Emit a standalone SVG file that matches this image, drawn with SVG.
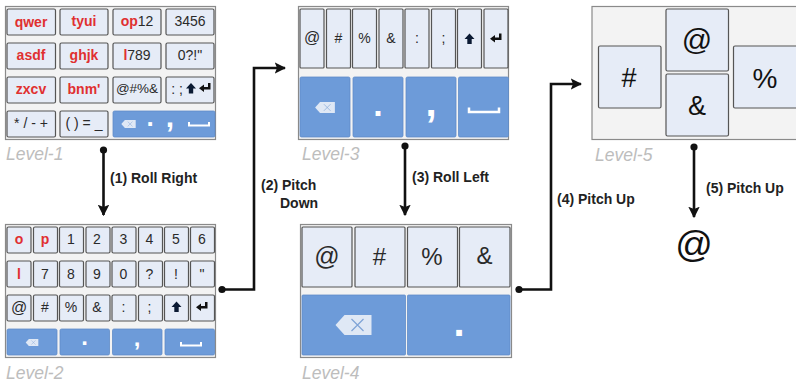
<svg xmlns="http://www.w3.org/2000/svg" width="796" height="384" viewBox="0 0 796 384">
<style>
text{font-family:"Liberation Sans",Arial,sans-serif;text-anchor:middle;fill:#2a2a2a}
.panel{fill:#f3f3f3;stroke:#8a8a8a;stroke-width:1.2}
.k{fill:#e6ecf7;stroke:#555;stroke-width:1.2}
.b{fill:#6d9bd9;stroke:#5f8cc8;stroke-width:.8}
.r{fill:#e03030;font-weight:bold}
.w{fill:#fff;font-weight:bold}
.lv{font-style:italic;fill:#bdbdbd;font-size:17.5px;text-anchor:start}
.lb{font-weight:bold;fill:#222;font-size:14px;text-anchor:start}
.s14{font-size:14px}.s15{font-size:15px}.s16{font-size:16px}
.c{fill:none;stroke:#111;stroke-width:2.6}
.d{fill:#111}
.sp{fill:none;stroke:#fff;stroke-width:2}
</style>
<defs>
<marker id="ah" viewBox="0 0 10 10" refX="9" refY="5" markerWidth="4.4" markerHeight="4.4" orient="auto" markerUnits="strokeWidth"><path d="M0 0L10 5L0 10L2 5Z" fill="#111"/></marker>
<symbol id="bs" viewBox="0 0 36 20" overflow="visible"><path d="M9 0H36V20H9L0 10Z" fill="#dfe8f5"/><path d="M16 4L28 16M28 4L16 16" stroke="#7fa3d6" stroke-width="1.2"/></symbol>
<path id="up" d="M0 -5.500L5 0H2.200V5H-2.200V0H-5Z" fill="#0b1a33"/>
<path id="en" d="M5.500 -5V1.500H-1V4L-6 .2L-1 -3.500V-1H3V-5Z" fill="#111"/>
</defs>
<g id="level-1">
<rect class="panel" x="5.500" y="6.500" width="210" height="133"/>
<rect class="k" x="7" y="9" width="48.500" height="26" rx="1.500"/><rect class="k" x="60" y="9" width="48" height="26" rx="1.500"/><rect class="k" x="113" y="9" width="48" height="26" rx="1.500"/><rect class="k" x="166" y="9" width="48" height="26" rx="1.500"/>
<rect class="k" x="7" y="43" width="48.500" height="26" rx="1.500"/><rect class="k" x="60" y="43" width="48" height="26" rx="1.500"/><rect class="k" x="113" y="43" width="48" height="26" rx="1.500"/><rect class="k" x="166" y="43" width="48" height="26" rx="1.500"/>
<rect class="k" x="7" y="77" width="48.500" height="26" rx="1.500"/><rect class="k" x="60" y="77" width="48" height="26" rx="1.500"/><rect class="k" x="113" y="77" width="48" height="26" rx="1.500"/><rect class="k" x="166" y="77" width="48" height="26" rx="1.500"/>
<rect class="k" x="7" y="111" width="48.500" height="26" rx="1.500"/><rect class="k" x="60" y="111" width="48" height="26" rx="1.500"/>
<rect class="b" x="113" y="111" width="102" height="26" rx="1.500"/>
<text class="r s14" x="31" y="27">qwer</text><text class="r s14" x="84" y="26">tyui</text>
<text class="s14" x="137" y="26"><tspan class="r">op</tspan>12</text><text class="s14" x="190" y="26">3456</text>
<text class="r s14" x="31" y="60">asdf</text><text class="r s14" x="84" y="60">ghjk</text>
<text class="s14" x="137" y="60"><tspan class="r">l</tspan>789</text><text class="s14" x="190" y="60">0?!"</text>
<text class="r s14" x="31" y="94">zxcv</text><text class="r s14" x="84" y="94">bnm'</text>
<text x="137" y="93" font-size="13.500">@#%&amp;</text><text class="s14" x="177" y="94">: ;</text>
<use href="#up" x="191" y="88.500"/><use href="#en" x="205" y="88"/>
<text class="s14" x="31" y="128">* / - +</text><text class="s14" x="84" y="128">( ) = _</text>
<use href="#bs" x="121" y="120" width="15" height="8"/>
<text class="w" x="150" y="126" font-size="26">.</text><text class="w" x="170" y="127" font-size="30">,</text>
<path class="sp" d="M189 122V125.500H209V122"/>
<text class="lv" x="6" y="160">Level-1</text>
</g>
<g id="level-2">
<rect class="panel" x="5.500" y="224.500" width="210" height="133"/>
<rect class="k" x="7" y="227" width="24" height="26" rx="1.500"/><rect class="k" x="33.500" y="227" width="24" height="26" rx="1.500"/><rect class="k" x="59.500" y="227" width="24" height="26" rx="1.500"/><rect class="k" x="86" y="227" width="24" height="26" rx="1.500"/><rect class="k" x="112" y="227" width="24" height="26" rx="1.500"/><rect class="k" x="138.500" y="227" width="24" height="26" rx="1.500"/><rect class="k" x="164.500" y="227" width="24" height="26" rx="1.500"/><rect class="k" x="190.500" y="227" width="24" height="26" rx="1.500"/>
<rect class="k" x="7" y="261" width="24" height="26" rx="1.500"/><rect class="k" x="33.500" y="261" width="24" height="26" rx="1.500"/><rect class="k" x="59.500" y="261" width="24" height="26" rx="1.500"/><rect class="k" x="86" y="261" width="24" height="26" rx="1.500"/><rect class="k" x="112" y="261" width="24" height="26" rx="1.500"/><rect class="k" x="138.500" y="261" width="24" height="26" rx="1.500"/><rect class="k" x="164.500" y="261" width="24" height="26" rx="1.500"/><rect class="k" x="190.500" y="261" width="24" height="26" rx="1.500"/>
<rect class="k" x="7" y="295" width="24" height="26" rx="1.500"/><rect class="k" x="33.500" y="295" width="24" height="26" rx="1.500"/><rect class="k" x="59.500" y="295" width="24" height="26" rx="1.500"/><rect class="k" x="86" y="295" width="24" height="26" rx="1.500"/><rect class="k" x="112" y="295" width="24" height="26" rx="1.500"/><rect class="k" x="138.500" y="295" width="24" height="26" rx="1.500"/><rect class="k" x="164.500" y="295" width="24" height="26" rx="1.500"/><rect class="k" x="190.500" y="295" width="24" height="26" rx="1.500"/>
<rect class="b" x="7" y="329" width="50" height="26" rx="1.500"/><rect class="b" x="60" y="329" width="49.500" height="26" rx="1.500"/><rect class="b" x="112.500" y="329" width="49.500" height="26" rx="1.500"/><rect class="b" x="165" y="329" width="49.500" height="26" rx="1.500"/>
<text class="r s14" x="19" y="244">o</text><text class="r s14" x="45" y="244">p</text><text class="s14" x="71" y="244">1</text><text class="s14" x="97" y="244">2</text><text class="s14" x="123.500" y="244">3</text><text class="s14" x="149.500" y="244">4</text><text class="s14" x="176" y="244">5</text><text class="s14" x="202" y="244">6</text>
<text class="r s14" x="19" y="279">l</text><text class="s14" x="45" y="279">7</text><text class="s14" x="71" y="279">8</text><text class="s14" x="97" y="279">9</text><text class="s14" x="123.500" y="279">0</text><text class="s14" x="149.500" y="279">?</text><text class="s14" x="176" y="279">!</text><text class="s14" x="202" y="279">"</text>
<text class="s16" x="19" y="313">@</text><text class="s14" x="45" y="312">#</text><text class="s14" x="71" y="312">%</text><text class="s14" x="97" y="312">&amp;</text><text class="s14" x="123.500" y="312">:</text><text class="s14" x="149.500" y="312">;</text>
<use href="#up" x="176.500" y="307"/><use href="#en" x="202" y="307"/>
<use href="#bs" x="25" y="339" width="14" height="7"/>
<text class="w" x="84.500" y="345" font-size="24">.</text><text class="w" x="137" y="346" font-size="24">,</text>
<path class="sp" d="M181 342V345.500H201V342"/>
<text class="lv" x="6" y="379">Level-2</text>
</g>
<g id="level-3">
<rect class="panel" x="298.500" y="6.500" width="210" height="133"/>
<rect class="k" x="300" y="9" width="24" height="59" rx="1"/><rect class="k" x="326.500" y="9" width="24" height="59" rx="1"/><rect class="k" x="352.500" y="9" width="24" height="59" rx="1"/><rect class="k" x="379" y="9" width="24" height="59" rx="1"/><rect class="k" x="405" y="9" width="24" height="59" rx="1"/><rect class="k" x="431.500" y="9" width="24" height="59" rx="1"/><rect class="k" x="457.500" y="9" width="24" height="59" rx="1"/><rect class="k" x="484" y="9" width="24" height="59" rx="1"/>
<rect class="b" x="300" y="77" width="50" height="60" rx="1.500"/><rect class="b" x="353" y="77" width="50" height="60" rx="1.500"/><rect class="b" x="406" y="77" width="50" height="60" rx="1.500"/><rect class="b" x="458.500" y="77" width="50" height="60" rx="1.500"/>
<text class="s16" x="312" y="43">@</text><text class="s14" x="338.500" y="43">#</text><text class="s14" x="364.500" y="43">%</text><text class="s14" x="391" y="43">&amp;</text><text class="s14" x="417" y="43">:</text><text class="s14" x="443.500" y="43">;</text>
<use href="#up" x="469.500" y="39"/><use href="#en" x="496" y="38.500"/>
<use href="#bs" x="314" y="102" width="22" height="11"/>
<text class="w" x="378" y="115.500" font-size="34">.</text><text class="w" x="431" y="116" font-size="40">,</text>
<path class="sp" stroke-width="2.500" d="M469 107.500V112H499V107.500" style="stroke-width:2.500"/>
<text class="lv" x="302" y="160">Level-3</text>
</g>
<g id="level-4">
<rect class="panel" x="300.500" y="224.500" width="211" height="133"/>
<rect class="k" x="302" y="227" width="50" height="60" rx="1"/><rect class="k" x="355" y="227" width="50" height="60" rx="1"/><rect class="k" x="407.500" y="227" width="50" height="60" rx="1"/><rect class="k" x="459.500" y="227" width="50.500" height="60" rx="1"/>
<rect class="b" x="302" y="295" width="103.500" height="60" rx="1"/><rect class="b" x="407.500" y="295" width="102.500" height="60" rx="1"/>
<text x="327" y="265" font-size="25">@</text><text x="379.500" y="265" font-size="24">#</text><text x="432" y="265" font-size="24">%</text><text x="484.500" y="264" font-size="24">&amp;</text>
<use href="#bs" x="335.500" y="315" width="36" height="20"/>
<text class="w" x="459" y="336" font-size="40">.</text>
<text class="lv" x="302" y="379">Level-4</text>
</g>
<g id="level-5">
<rect class="panel" x="592" y="6.500" width="205" height="133"/>
<rect class="k" x="598.500" y="46" width="62.500" height="62" rx="1.500"/><rect class="k" x="666" y="9" width="62.500" height="62" rx="1.500"/><rect class="k" x="666" y="74" width="62.500" height="62" rx="1.500"/><rect class="k" x="733.500" y="46" width="64" height="62" rx="1.500"/>
<text style="fill:#111" x="629" y="87" font-size="27">#</text>
<text style="fill:#111" x="697" y="50" font-size="30">@</text>
<text style="fill:#111" x="697" y="115" font-size="27">&amp;</text>
<text style="fill:#111" x="765" y="88" font-size="28">%</text>
<text class="lv" x="595" y="161">Level-5</text>
</g>
<g id="result">
<text style="fill:#111" x="694" y="257" font-size="37">@</text>
</g>
<g id="connectors">
<path class="c" marker-end="url(#ah)" d="M103.500 150V215"/>
<circle class="d" cx="103.500" cy="150" r="3.600"/>
<path class="c" marker-end="url(#ah)" d="M222 289.500H254V68H285"/>
<circle class="d" cx="222" cy="289.500" r="3.600"/>
<path class="c" marker-end="url(#ah)" d="M405 146V215"/>
<circle class="d" cx="405" cy="146" r="3.600"/>
<path class="c" marker-end="url(#ah)" d="M519 289.500H551V84H581"/>
<circle class="d" cx="519" cy="289.500" r="3.600"/>
<path class="c" marker-end="url(#ah)" d="M694 147V217"/>
<circle class="d" cx="694" cy="147" r="3.600"/>
<text class="lb" x="110" y="183">(1) Roll Right</text>
<text class="lb" x="261" y="190">(2) Pitch</text>
<text class="lb" x="280" y="208">Down</text>
<text class="lb" x="412" y="182">(3) Roll Left</text>
<text class="lb" x="557" y="204">(4) Pitch Up</text>
<text class="lb" x="706" y="193">(5) Pitch Up</text>
</g>
</svg>
